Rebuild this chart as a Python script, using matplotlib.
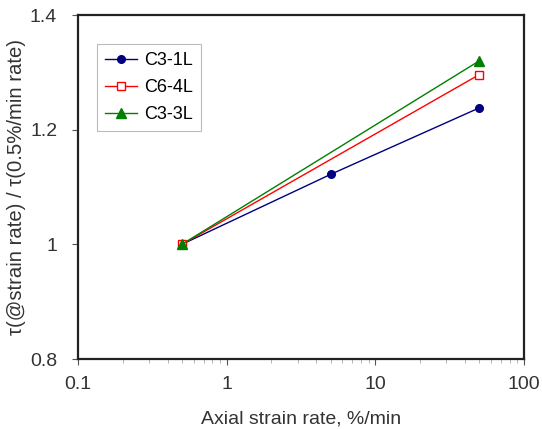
import matplotlib
matplotlib.use("Agg")
import matplotlib.pyplot as plt
from matplotlib.ticker import FixedLocator, LogLocator, NullFormatter, FixedFormatter

plt.rcParams['font.family'] = ['Liberation Sans', 'DejaVu Sans']

rates = [0.5, 5, 50]
c3_1l = [1.0, 1.122, 1.238]
rates_end = [0.5, 50]
c6_4l = [1.0, 1.296]
c3_3l = [1.0, 1.32]

x_ticks = [0.1, 1, 10, 100]
x_labels = ["0.1", "1", "10", "100"]
y_ticks = [0.8, 1.0, 1.2, 1.4]
y_labels = ["0.8", "1", "1.2", "1.4"]

fig = plt.figure(figsize=(5.42, 4.29), dpi=100)
ax = fig.add_axes([78/542, 1 - 359/429, (524-78)/542, (359-15)/429])

ax.plot(rates, c3_1l, color='#000080', marker='o', markersize=5.5, lw=1, label='C3-1L')
ax.plot(rates_end, c6_4l, color='#ff0000', marker='s', markersize=5.5, lw=1,
        markerfacecolor='white', markeredgewidth=1, label='C6-4L')
ax.plot(rates_end, c3_3l, color='#008000', marker='^', markersize=6.5, lw=1, label='C3-3L')

ax.set_xscale('log')
ax.set_xlim(0.1, 100)
ax.set_ylim(0.8, 1.4)
ax.xaxis.set_major_locator(FixedLocator(x_ticks))
ax.xaxis.set_major_formatter(FixedFormatter(x_labels))
ax.xaxis.set_minor_locator(LogLocator(base=10, subs=range(2, 10)))
ax.xaxis.set_minor_formatter(NullFormatter())
ax.yaxis.set_major_locator(FixedLocator(y_ticks))
ax.yaxis.set_major_formatter(FixedFormatter(y_labels))

ax.tick_params(axis='both', which='major', direction='out', length=4, width=0.8,
               labelsize=14, colors='#555555', labelcolor='#333333')
ax.tick_params(axis='y', which='major', pad=11)
ax.tick_params(axis='x', which='major', pad=8)
ax.tick_params(axis='x', which='minor', direction='out', length=3, width=0.6, colors='#aaaaaa')

for s in ax.spines.values():
    s.set_linewidth(1.6)
    s.set_color('#222222')

ax.set_xlabel('Axial strain rate, %/min', fontsize=14, color='#333333', labelpad=13)
ax.set_ylabel('τ(@strain rate) / τ(0.5%/min rate)', fontsize=14.6, color='#333333',
              va='center')
ax.yaxis.set_label_coords(-0.137, 0.5)

leg = ax.legend(loc='upper left', bbox_to_anchor=(0.042, 0.915), fontsize=13,
                frameon=True, fancybox=False, borderpad=0.45, handlelength=1.8,
                labelspacing=0.55, handletextpad=0.35, borderaxespad=0)
leg.get_frame().set_edgecolor('#aaaaaa')
leg.get_frame().set_linewidth(0.8)

fig.savefig('out.png', dpi=100)
